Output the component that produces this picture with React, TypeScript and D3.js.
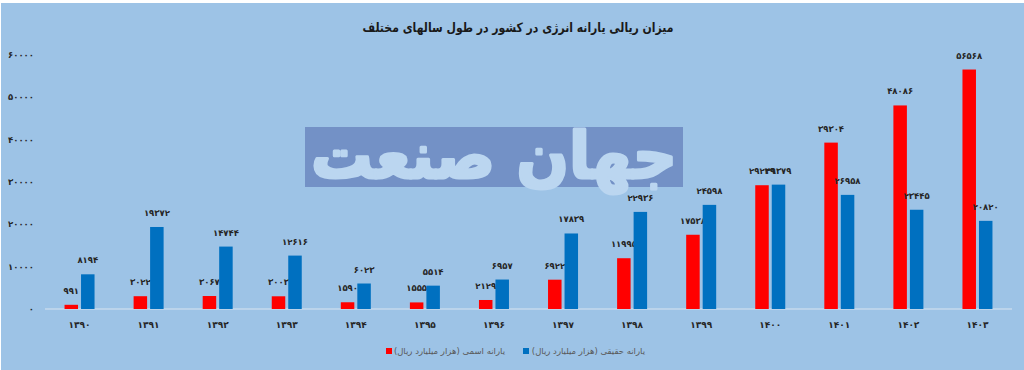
import React from "react";
import * as d3 from "d3";

const years = ["1390","1391","1392","1393","1394","1395","1396","1397","1398","1399","1400","1401","1402","1403"];
const nominal = [991, 3022, 3067, 3003, 1590, 1555, 2129, 6922, 11995, 17538, 29239, 39304, 48086, 56568];
const real = [8194, 19372, 14744, 12616, 6023, 5514, 6957, 17839, 22936, 24598, 29379, 26958, 23445, 20820];
const yTicks = [0, 10000, 20000, 30000, 40000, 50000, 60000];
const title = "میزان ریالی یارانه انرژی در کشور در طول سالهای مختلف";
const seriesNames = ["یارانه اسمی (هزار میلیارد ریال)", "یارانه حقیقی (هزار میلیارد ریال)"];
const watermark = "جهان صنعت";

const fa = (v: number | string) => String(v).replace(/[0-9]/g, (d) => "۰۱۲۳۴۵۶۷۸۹"[+d]);

const W = 1024, H = 370;
const FONT = "'DejaVu Sans', sans-serif";

export default function App() {
  const x = d3.scaleBand().domain(years).range([45, 1012]).paddingInner(0).paddingOuter(0);
  const y = d3.scaleLinear().domain([0, 60000]).range([309, 55]);
  const bw = 13.5, gap = 3;
  const series = [
    { vals: nominal, color: "#FF0000", off: -gap / 2 - bw },
    { vals: real, color: "#0070C0", off: gap / 2 },
  ];
  return (
    <svg width={W} height={H} style={{ position: "absolute", left: 0, top: 0 }} fontFamily={FONT}>
      <rect x={0} y={0} width={W} height={H} fill="#ffffff" />
      <rect x={1} y={3} width={W - 1} height={H - 3} fill="#9DC3E6" />
      <text x={518} y={32} textAnchor="middle" fontSize={13} fontWeight="bold" fill="#1a1a1a" direction="rtl" textLength={311} lengthAdjust="spacingAndGlyphs">{title}</text>
      <rect x={305} y={127} width={378} height={60} fill="#7391C6" />
      <text x={494} y={178} textAnchor="middle" fontSize={64} fontWeight="bold" fill="#BBD6F0" stroke="#BBD6F0" strokeWidth={3} strokeLinejoin="round" direction="rtl" textLength={366} lengthAdjust="spacingAndGlyphs">{watermark}</text>
      {yTicks.map((t) => (
        <text key={t} x={34} y={y(t)} dy="0.35em" textAnchor="end" fontSize={8.5} fontWeight="bold" fill="#262626">{fa(t)}</text>
      ))}
      <line x1={45} x2={1012} y1={y(0)} y2={y(0)} stroke="#D9E4F0" strokeWidth={1} />
      {series.map((s, si) =>
        s.vals.map((v, i) => {
          const cx = (x(years[i]) as number) + x.bandwidth() / 2 + s.off;
          return (
            <g key={si + "-" + i}>
              <rect x={cx} y={y(v)} width={bw} height={y(0) - y(v)} fill={s.color} />
              <text x={cx + bw / 2} y={y(v) - 11} textAnchor="middle" fontSize={8.5} fontWeight="bold" fill="#262626">{fa(v)}</text>
            </g>
          );
        })
      )}
      {years.map((yr) => (
        <text key={yr} x={(x(yr) as number) + x.bandwidth() / 2} y={328} textAnchor="middle" fontSize={9} fontWeight="bold" fill="#262626">{fa(yr)}</text>
      ))}
      {[0, 1].map((i) => {
        const sx = i === 0 ? 386 : 523;
        return (
          <g key={i}>
            <rect x={sx} y={348} width={6} height={6} fill={series[i].color} />
            <text x={i === 0 ? 505 : 645} y={354} fontSize={8.5} fill="#595959" textAnchor="start" direction="rtl">{seriesNames[i]}</text>
          </g>
        );
      })}
    </svg>
  );
}
